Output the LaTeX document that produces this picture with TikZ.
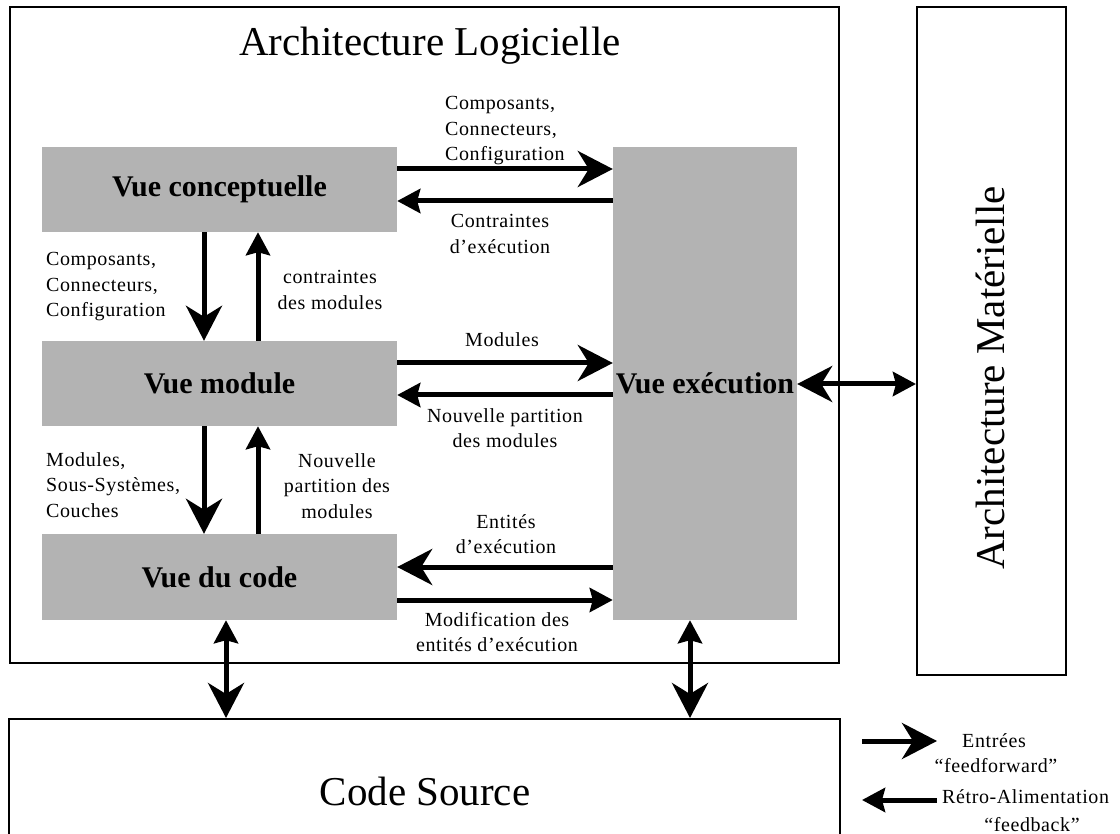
\documentclass[tikz,border=0pt]{standalone}
\usepackage{fontspec}
\setmainfont{Liberation Serif}
\newfontfamily\spacedfont[LetterSpace=3]{Liberation Serif}
\usetikzlibrary{arrows.meta}
\definecolor{viewgray}{HTML}{B3B3B3}
\begin{document}
\begin{tikzpicture}[x=1pt,y=-1pt,
  frame/.style={draw=black,line width=2pt,inner sep=0pt},
  view/.style={fill=viewgray,inner sep=0pt,font=\fontsize{30}{34}\selectfont\bfseries},
  title/.style={font=\fontsize{41}{48}\selectfont,inner sep=0pt},
  lbl/.style={font=\spacedfont\fontsize{20}{25.5}\selectfont,align=center,inner sep=0pt},
  lbll/.style={lbl,align=left,anchor=west},
  leg/.style={font=\spacedfont\fontsize{20}{25}\selectfont,inner sep=0pt},
  link/.style={line width=5pt},
  ffh/.tip={Stealth[length=35pt,width=36pt,inset=11pt]},
  fbh/.tip={Stealth[length=23pt,width=24pt,inset=3pt]}]
\clip (0,0) rectangle (1120,834);
\fill[white] (0,0) rectangle (1120,834);
% frames
\node[frame,minimum width=829pt,minimum height=656pt] (al) at (424.5,335) {};
\node[title,anchor=base] (altitle) at (430,56) {Architecture Logicielle};
\node[frame,minimum width=149pt,minimum height=668pt] (am) at (991.5,341) {};
\node[title,rotate=90] (amtitle) at (990,378) {Architecture Matérielle};
\node[frame,minimum width=831pt,minimum height=160pt,anchor=north west] (cs) at (8,718) {};
\node[title,anchor=base] (cstitle) at (425,805) {Code Source};
% views
\node[view,minimum width=355pt,minimum height=85pt] (vc) at (219.5,189.5) {Vue conceptuelle};
\node[view,minimum width=355pt,minimum height=85pt] (vm) at (219.5,383.5) {Vue module};
\node[view,minimum width=355pt,minimum height=86pt] (vd) at (219.5,577) {Vue du code};
\node[view,minimum width=184pt,minimum height=473pt] (ve) at (705,383.5) {Vue exécution};
% helper coordinates
\coordinate (h1) at (0,169);
\coordinate (h2) at (0,201);
\coordinate (h3) at (0,363);
\coordinate (h4) at (0,395);
\coordinate (h5) at (0,567);
\coordinate (h6) at (0,600);
\coordinate (h7) at (0,384);
\coordinate (v1) at (204,0);
\coordinate (v2) at (258,0);
\coordinate (v3) at (226,0);
\coordinate (v4) at (690,0);
% arrows
\draw[link,-ffh] (vc.east|-h1) -- (ve.west|-h1);
\draw[link,-fbh] (ve.west|-h2) -- (vc.east|-h2);
\draw[link,-ffh] (vm.east|-h3) -- (ve.west|-h3);
\draw[link,-fbh] (ve.west|-h4) -- (vm.east|-h4);
\draw[link,-ffh] (ve.west|-h5) -- (vd.east|-h5);
\draw[link,-fbh] (vd.east|-h6) -- (ve.west|-h6);
\draw[link,-ffh] (vc.south-|v1) -- (vm.north-|v1);
\draw[link,-fbh] (vm.north-|v2) -- (vc.south-|v2);
\draw[link,-ffh] (vm.south-|v1) -- (vd.north-|v1);
\draw[link,-fbh] (vd.north-|v2) -- (vm.south-|v2);
\draw[link,ffh-fbh] (ve.east|-h7) -- (am.west|-h7);
\draw[link,fbh-ffh] (vd.south-|v3) -- (cs.north-|v3);
\draw[link,fbh-ffh] (ve.south-|v4) -- (cs.north-|v4);
% labels
\node[lbll] (l1) at (445,131) {Composants,\\Connecteurs,\\Configuration};
\node[lbl] (l2) at (500,234) {Contraintes\\d’exécution};
\node[lbll] (l3) at (46,287) {Composants,\\Connecteurs,\\Configuration};
\node[lbl] (l4) at (330,290) {contraintes\\des modules};
\node[lbl] (l5) at (502,340) {Modules};
\node[lbl] (l6) at (505,428) {Nouvelle partition\\des modules};
\node[lbll] (l7) at (46,485) {Modules,\\Sous-Systèmes,\\Couches};
\node[lbl] (l8) at (337,486) {Nouvelle\\partition des\\modules};
\node[lbl] (l9) at (506,534) {Entités\\d’exécution};
\node[lbl] (l10) at (497,632) {Modification des\\entités d’exécution};
% legend
\coordinate (la1) at (862,741);
\coordinate (la2) at (937,741);
\coordinate (lb1) at (862,800);
\coordinate (lb2) at (937,800);
\draw[link,-ffh] (la1) -- (la2);
\draw[link,-fbh] (lb2) -- (lb1);
\node[leg,anchor=base] (lg1) at (994,747) {Entrées};
\node[leg,anchor=base] (lg2) at (996,772) {“feedforward”};
\node[leg,anchor=base west] (lg3) at (942,803) {Rétro-Alimentation};
\node[leg,anchor=base] (lg4) at (1032,831) {“feedback”};
\end{tikzpicture}
\end{document}
